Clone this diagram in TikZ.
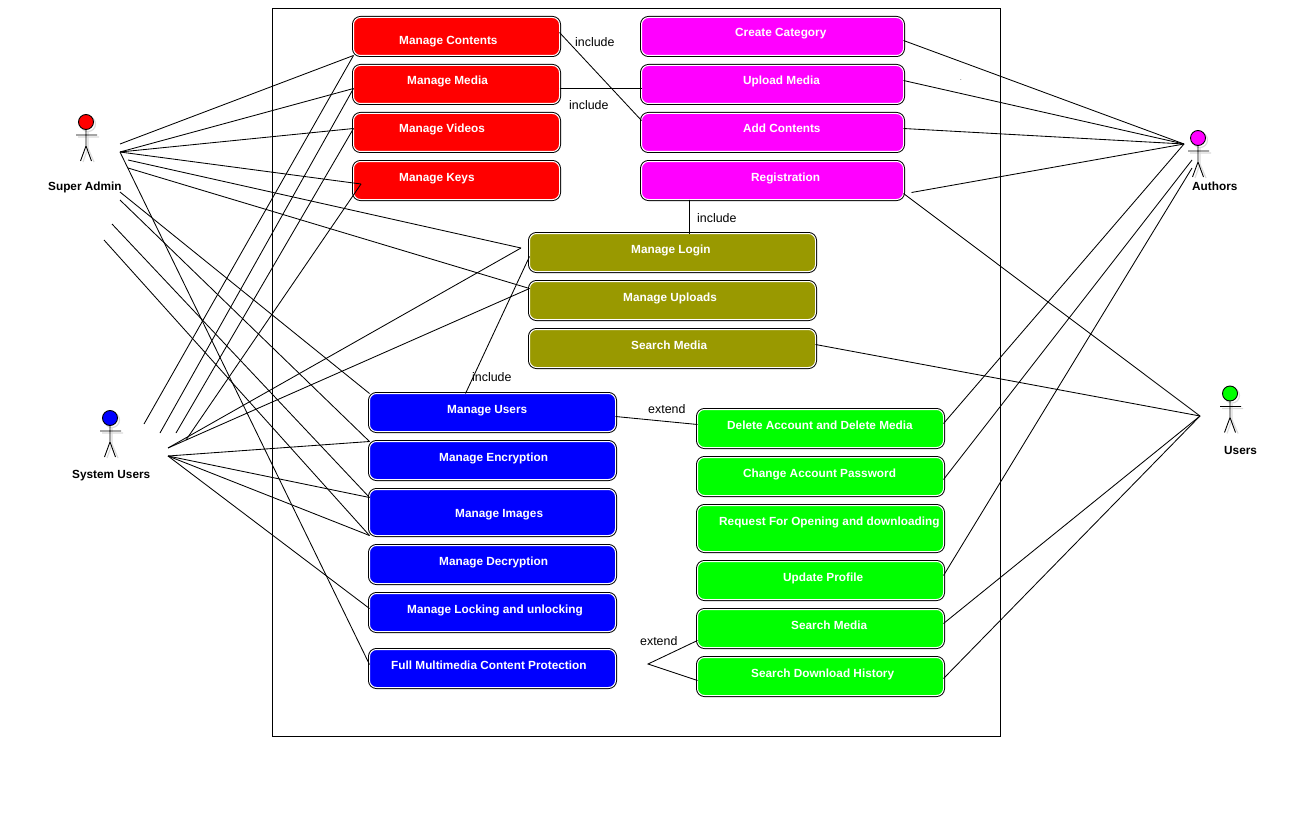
\documentclass[tikz,border=0pt]{standalone}
\usepackage{fontspec}
\setmainfont{Liberation Sans}
\usetikzlibrary{calc}
\definecolor{ured}{HTML}{FF0000}
\definecolor{umag}{HTML}{FF00FF}
\definecolor{uoli}{HTML}{999900}
\definecolor{ublu}{HTML}{0000FF}
\definecolor{ugre}{HTML}{00FF00}
\tikzset{
  ucbox/.style={rectangle,rounded corners=7pt,fill=#1,draw=white,line width=1pt,inner sep=0pt,outer sep=0pt,
    preaction={draw=black,line width=3pt}},
  uctext/.style={anchor=base west,inner sep=0pt,text=white,font=\bfseries\fontsize{11.8}{14}\selectfont},
  actname/.style={anchor=base west,inner sep=0pt,text=black,font=\bfseries\fontsize{11.8}{14}\selectfont},
  rel/.style={anchor=base west,inner sep=0pt,text=black,font=\fontsize{12.4}{14}\selectfont},
  link/.style={draw=black,line width=0.85pt},
  stick/.style={draw=black,line width=0.9pt},
  stickshadow/.style={draw=black!14,line width=1.1pt}
}
% name, x0, y0, x1, y1, colour, text x, text y, text
\newcommand{\ucase}[9]{%
  \pgfmathsetmacro{\ucw}{#4-#2-2}\pgfmathsetmacro{\uch}{#5-#3-2}%
  \pgfmathsetmacro{\ucx}{(#4+#2)/2+0.5}\pgfmathsetmacro{\ucy}{(#5+#3)/2+0.5}%
  \node[ucbox=#6,minimum width=\ucw pt,minimum height=\uch pt] (#1) at (\ucx,\ucy) {};%
  \node[uctext] (#1t) at (#7,#8+5) {#9};%
}
% name, head x, head y, colour
\newcommand{\actor}[4]{%
  \begin{scope}[shift={(#2,#3)}]
    \draw[stickshadow] (2,2) circle (7.5pt);
    \draw[stickshadow] (-8,15) -- (13,15) (2,10) -- (2,26) -- (-3,40) (2,26) -- (8,40);
    \node[circle,fill=#4,draw=black,line width=0.9pt,minimum size=15pt,inner sep=0pt] (#1) at (0,0) {};
    \draw[stick] (-10,13) -- (11,13) (0,7.5) -- (0,24) -- (-5.5,39) (0,24) -- (5.5,39);
  \end{scope}%
}
\begin{document}
\begin{tikzpicture}[x=1pt,y=-1pt]
\useasboundingbox (0,0) rectangle (1309,824);
\fill[white] (0,0) rectangle (1309,824);
\draw[black,line width=1pt] (272.5,8.5) rectangle (1000.5,736.5);

\ucase{mc}{352}{16}{560}{56}{ured}{399}{40}{Manage Contents}
\ucase{mm}{352}{64}{560}{104}{ured}{407}{80}{Manage Media}
\ucase{mv}{352}{112}{560}{152}{ured}{399}{128}{Manage Videos}
\ucase{mk}{352}{160}{560}{200}{ured}{399}{176}{Manage Keys}

\ucase{cc}{640}{16}{904}{56}{umag}{735}{32}{Create Category}
\ucase{um}{640}{64}{904}{104}{umag}{743}{80}{Upload Media}
\ucase{ac}{640}{112}{904}{152}{umag}{743}{128}{Add Contents}
\ucase{rg}{640}{160}{904}{200}{umag}{751}{176}{Registration}

\ucase{ml}{528}{232}{816}{272}{uoli}{631}{248}{Manage Login}
\ucase{mu}{528}{280}{816}{320}{uoli}{623}{296}{Manage Uploads}
\ucase{sm}{528}{328}{816}{368}{uoli}{631}{344}{Search Media}

\ucase{us}{368}{392}{616}{432}{ublu}{447}{408}{Manage Users}
\ucase{en}{368}{440}{616}{480}{ublu}{439}{456}{Manage Encryption}
\ucase{im}{368}{488}{616}{536}{ublu}{455}{512}{Manage Images}
\ucase{de}{368}{544}{616}{584}{ublu}{439}{560}{Manage Decryption}
\ucase{lk}{368}{592}{616}{632}{ublu}{407}{608}{Manage Locking and unlocking}
\ucase{fm}{368}{648}{616}{688}{ublu}{391}{664}{Full Multimedia Content Protection}

\ucase{da}{696}{408}{944}{448}{ugre}{727}{424}{Delete Account and Delete Media}
\ucase{cp}{696}{456}{944}{496}{ugre}{743}{472}{Change Account Password}
\ucase{ro}{696}{504}{944}{552}{ugre}{719}{520}{Request For Opening and downloading}
\ucase{up}{696}{560}{944}{600}{ugre}{783}{576}{Update Profile}
\ucase{sg}{696}{608}{944}{648}{ugre}{791}{624}{Search Media}
\ucase{sh}{696}{656}{944}{696}{ugre}{751}{672}{Search Download History}

\actor{sa}{86}{122}{ured}
\actor{su}{110}{418}{ublu}
\actor{au}{1198}{138}{umag}
\actor{ur}{1230}{393.5}{ugre}

\node[actname] (san) at (48,190) {Super Admin};
\node[actname] (sun) at (72,478) {System Users};
\node[actname] (aun) at (1192,190) {Authors};
\node[actname] (urn) at (1224,454) {Users};

\node[rel] (l1) at (575,46.5) {include};
\node[rel] (l2) at (569,110) {include};
\node[rel] (l3) at (697,222) {include};
\node[rel] (l4) at (472,381) {include};
\node[rel] (l5) at (648,413) {extend};
\node[rel] (l6) at (640,645) {extend};
\node[rel] (dot) at (960,81) {\fontsize{6}{6}\selectfont .};

% free ends
\coordinate (sa1) at (120,144);
\coordinate (sa2) at (120,152);
\coordinate (sa3) at (128,160);
\coordinate (sa4) at (128,168);
\coordinate (sa5) at (120,192);
\coordinate (sa6) at (120,200);
\coordinate (sa7) at (112,224);
\coordinate (sa8) at (104,240);
\coordinate (su1) at (144,424);
\coordinate (su2) at (160,433);
\coordinate (su3) at (176,433);
\coordinate (su4) at (186,440);
\coordinate (su5) at (168,448);
\coordinate (su6) at (168,456);
\coordinate (au1) at (1184,144);
\coordinate (au2) at (1192,160);
\coordinate (au3) at (1192,168);
\coordinate (ur1) at (1200,416);
\coordinate (ex) at (648,664);
\coordinate (kp) at (361,184);
\coordinate (lp) at (521,248);

\draw[link] (sa1) -- (mc.south west);
\draw[link] (sa2) -- ($(mm.west)+(0,4)$);
\draw[link] (sa2) -- ($(mv.west)+(0,-4)$);
\draw[link] (sa2) -- (kp);
\draw[link] (sa3) -- (lp);
\draw[link] (sa4) -- ($(mu.north west)+(0,7)$);
\draw[link] (sa2) -- ($(fm.west)+(0,-4)$);
\draw[link] (sa5) -- (us.north west);
\draw[link] (sa6) -- (en.north west);
\draw[link] (sa7) -- ($(im.north west)+(0,8)$);
\draw[link] (sa8) -- (im.south west);

\draw[link] (su1) -- (mc.south west);
\draw[link] (su2) -- ($(mm.west)+(0,4)$);
\draw[link] (su3) -- ($(mv.west)+(0,-4)$);
\draw[link] (su4) -- (kp);
\draw[link] (su5) -- (lp);
\draw[link] (su5) -- ($(mu.north west)+(0,7)$);
\draw[link] (su6) -- (en.north west);
\draw[link] (su6) -- ($(im.north west)+(0,8)$);
\draw[link] (su6) -- (im.south west);
\draw[link] (su6) -- ($(lk.west)+(0,-12)+(0,8)$);

\draw[link] ($(cc.east)+(0,4)$) -- (au1);
\draw[link] ($(um.east)+(0,-4)$) -- (au1);
\draw[link] ($(ac.east)+(0,-4)$) -- (au1);
\draw[link] ($(rg.south east)+(8,-7)$) -- (au1);
\draw[link] ($(da.east)+(0,-5)$) -- (au1);
\draw[link] ($(cp.east)+(0,3)$) -- (au2);
\draw[link] ($(up.east)+(0,-5)$) -- (au3);

\draw[link] ($(rg.south east)+(0,-6)$) -- (ur1);
\draw[link] ($(sm.east)+(0,-4)$) -- (ur1);
\draw[link] ($(sg.east)+(0,-5)$) -- (ur1);
\draw[link] ($(sh.east)+(0,2)$) -- (ur1);

\draw[link] ($(mc.east)+(0,-4)$) -- ($(ac.west)+(0,-12)$);
\draw[link] ($(mm.east)+(0,4)$) -- ($(um.west)+(0,4)$);
\draw[link] ($(rg.south west)+(48,0)$) -- ($(ml.north west)+(160,0)$);
\draw[link] ($(ml.west)+(0,4)$) -- ($(us.north west)+(96,0)$);
\draw[link] ($(us.east)+(0,4)$) -- ($(da.west)+(0,-4)$);
\draw[link] ($(sg.west)+(0,12)$) -- (ex) -- ($(sh.west)+(0,4)$);
\end{tikzpicture}
\end{document}
